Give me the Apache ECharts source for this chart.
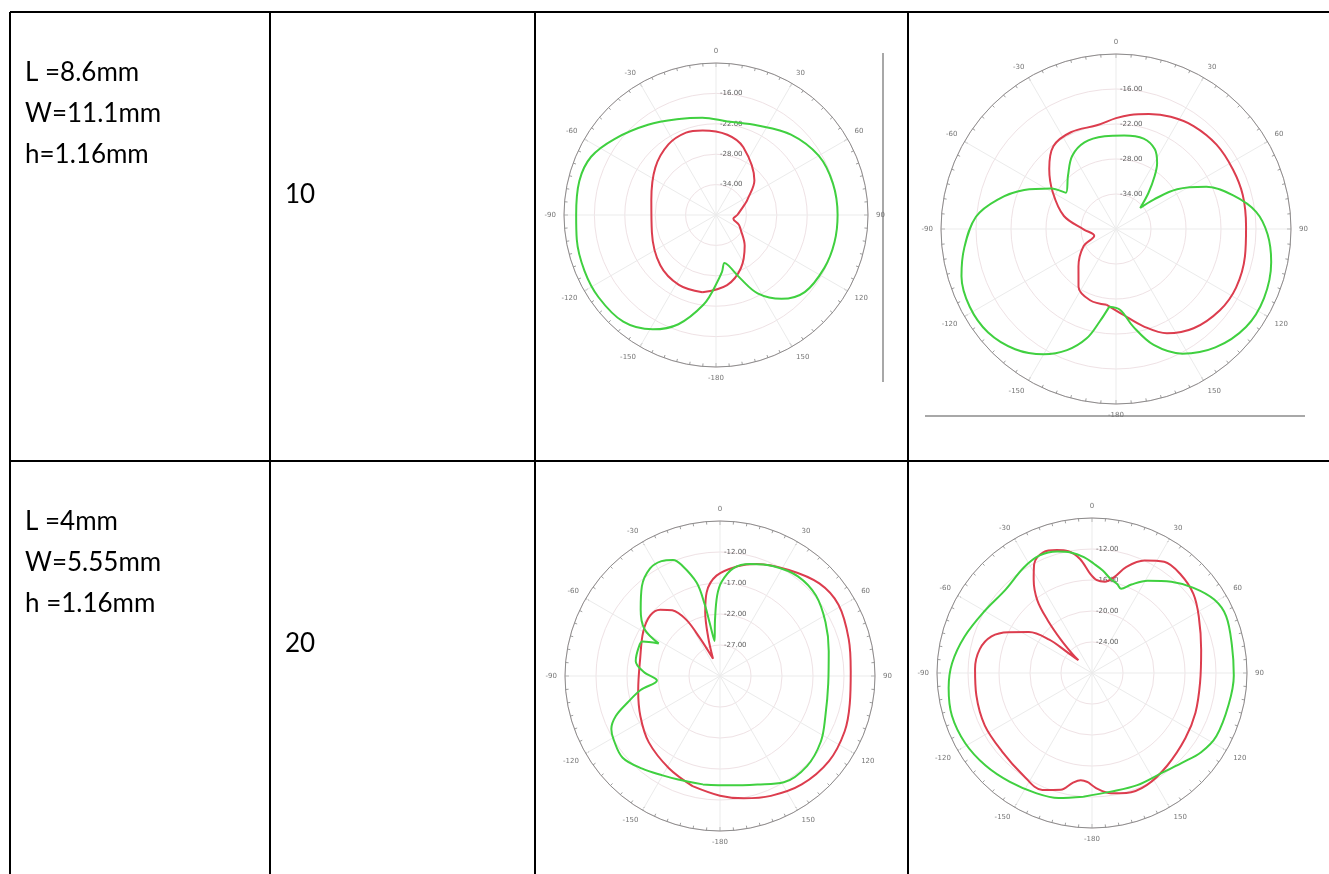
<!DOCTYPE html>
<html>
<head>
<meta charset="utf-8">
<title>Patch antenna radiation patterns</title>
<script src="https://cdn.jsdelivr.net/npm/echarts@6/dist/echarts.min.js"></script>
<style>
  html, body { margin: 0; padding: 0; background: #ffffff; }
  #wrap { position: relative; width: 1329px; height: 874px; }
  #plots, #table { position: absolute; left: 0; top: 0; width: 1329px; height: 874px; }
  #plots { filter: blur(0.5px); }
</style>
</head>
<body>
<div id="wrap">
  <div id="plots"></div>
  <div id="table"></div>
</div>
<script>
// Table cells: patch dimensions and the value column
const rowDimensions = [
  ['L =8.6mm', 'W=11.1mm', 'h=1.16mm'],
  ['L =4mm', 'W=5.55mm', 'h =1.16mm']
];
const rowValues = ['10', '20'];

// Radial scales (dB) of the four pattern plots
const radialMin = [-40, -40, -32, -28];
const radialMax = [-10, -10, -7, -8];
const radialStep = [6, 6, 5, 4];

// Pattern 1 (L=8.6mm, first plot): theta in degrees, gain in dB
const p1RedAngle = [-170, -152, -132, -105, -77, -52, -34, -20, -9, 8, 22, 48, 64, 68, 90, 102, 113, 120, 137, 155, 171];
const p1RedGain = [-24.5, -24.4, -25.2, -26.9, -26.9, -24.8, -23.2, -22.7, -23.1, -24.0, -25.6, -29.8, -33.1, -33.7, -35.8, -36.5, -35.1, -34.4, -31.7, -28.4, -26.0];
const p1GreenAngle = [-179, -172, -161, -151, -139, -125, -113, -100, -90, -76, -65, -53, -37, -21, -8, 7, 25, 43, 60, 75, 90, 103, 116, 131, 142, 152, 159, 166, 170, 174];
const p1GreenGain = [-25.8, -22.1, -17.2, -14.2, -12.1, -11.7, -11.8, -12.1, -12.4, -12.2, -12.8, -15.0, -17.7, -19.7, -20.6, -21.4, -20.5, -18.3, -16.6, -16.1, -16.0, -16.0, -16.2, -16.8, -19.0, -22.5, -26.6, -29.7, -30.4, -28.7];

// Pattern 2 (L=8.6mm, second plot)
const p2RedAngle = [-173, -160, -147, -135, -118, -107, -91, -76, -60, -48, -37, -25, -10, 0, 7, 16, 26, 37, 50, 63, 75, 89, 102, 116, 128, 142, 154, 164, 175];
const p2RedGain = [-26.9, -27.0, -28.2, -30.9, -33.7, -36.1, -34.5, -30.8, -27.5, -24.6, -22.2, -21.7, -21.9, -21.0, -20.3, -19.5, -18.6, -17.9, -17.5, -17.5, -17.5, -17.7, -17.4, -17.1, -17.4, -18.4, -20.1, -22.6, -25.2];
const p2GreenAngle = [-175, -170, -165, -158, -150, -140, -129, -118, -107, -97, -85, -76, -67, -58, -54, -42, -31, -20, -7, 5, 17, 26, 32, 36, 42, 49, 52, 57, 65, 74, 83, 92, 102, 115, 127, 140, 152, 162, 170, 177];
const p2GreenGain = [-26.6, -23.9, -20.6, -17.6, -15.2, -13.1, -11.8, -11.6, -12.3, -13.8, -15.9, -19.1, -22.9, -26.9, -29.4, -27.7, -25.4, -24.2, -24.0, -23.9, -23.8, -24.8, -26.7, -28.7, -31.7, -34.5, -31.8, -27.5, -22.9, -19.1, -15.8, -14.0, -12.8, -12.0, -12.1, -13.5, -15.8, -19.1, -23.0, -26.1];

// Pattern 3 (L=4mm, first plot)
const p3RedAngle = [-166, -151, -133, -117, -100, -77, -60, -49, -42, -36, -31, -28, -22, -17, -13, -9, -2, 9, 18, 33, 47, 59, 74, 88, 102, 114, 128, 143, 157, 169, 180];
const p3RedGain = [-13.7, -15.0, -16.3, -17.6, -18.6, -18.8, -17.7, -17.1, -17.6, -18.9, -21.4, -25.0, -29.0, -25.5, -21.4, -18.3, -15.8, -14.1, -13.0, -11.6, -10.1, -9.7, -10.4, -10.9, -10.6, -10.0, -9.7, -10.1, -11.0, -11.9, -12.7];
const p3GreenAngle = [-171, -158, -150, -140, -130, -121, -116, -111, -106, -100, -94, -87, -80, -71, -66, -62, -58, -50, -41, -33, -27, -22, -19, -14, -12, -11, -9, -5, -2, 1, 7, 15, 26, 38, 50, 63, 77, 94, 111, 123, 136, 149, 161, 175];
const p3GreenGain = [-14.3, -14.0, -13.5, -12.5, -11.5, -12.0, -12.5, -14.0, -16.5, -19.0, -21.8, -19.7, -18.2, -18.1, -18.3, -20.8, -17.6, -15.3, -12.8, -11.3, -11.2, -11.8, -13.1, -16.5, -20.3, -23.3, -26.3, -22.8, -19.0, -16.8, -14.5, -13.3, -12.3, -11.6, -11.8, -12.9, -14.0, -14.5, -13.8, -12.6, -11.8, -12.0, -13.5, -14.3];

// Pattern 4 (L=4mm, second plot)
const p4RedAngle = [-178, -174, -170, -165, -157, -146, -131, -116, -101, -88, -78, -70, -64, -57, -52, -50, -47, -46, -43, -40, -37, -32, -28, -22, -16, -11, -6, -1, 3, 8, 13, 18, 25, 33, 42, 52, 62, 78, 95, 111, 125, 141, 154, 164, 171, 177];
const p4RedGain = [-13.9, -14.1, -13.6, -12.4, -11.6, -12.1, -12.6, -12.6, -12.8, -12.9, -13.2, -14.2, -16.0, -18.3, -21.0, -23.7, -25.6, -24.6, -22.1, -19.1, -16.3, -13.8, -12.1, -11.2, -11.5, -12.0, -13.2, -15.2, -16.0, -16.1, -15.3, -13.6, -12.0, -10.9, -10.9, -11.4, -12.4, -13.6, -14.0, -13.7, -13.3, -12.6, -11.9, -11.9, -12.3, -13.0];
const p4GreenAngle = [-176, -165, -155, -143, -131, -119, -107, -96, -86, -74, -60, -46, -33, -24, -16, -10, -4, 1, 6, 11, 16, 19, 24, 31, 41, 50, 59, 67, 79, 91, 103, 117, 126, 135, 146, 158, 171];
const p4GreenGain = [-12.0, -11.3, -10.9, -10.4, -9.8, -9.3, -9.1, -9.4, -9.9, -10.9, -12.0, -12.5, -11.8, -11.4, -11.7, -12.2, -13.0, -13.9, -14.7, -15.6, -16.1, -16.5, -15.5, -14.1, -12.4, -10.9, -9.6, -9.2, -9.6, -9.7, -9.9, -10.0, -10.6, -11.6, -12.3, -12.4, -12.5];

// ---- layout ----
const plotCenters = [[716, 215], [1116, 229], [720, 676], [1092, 673]];
const plotRadii = [152, 175, 155, 155];
const redColor = '#dc3d4e';
const greenColor = '#40d040';

const tableLines = [
  [10, 12, 1330, 12],   // top border
  [10, 461, 1330, 461], // row divider
  [10, 12, 10, 874],
  [270, 12, 270, 874],
  [535, 12, 535, 874],
  [908, 12, 908, 874]
];

const redSets = [[p1RedAngle, p1RedGain], [p2RedAngle, p2RedGain], [p3RedAngle, p3RedGain], [p4RedAngle, p4RedGain]];
const greenSets = [[p1GreenAngle, p1GreenGain], [p2GreenAngle, p2GreenGain], [p3GreenAngle, p3GreenGain], [p4GreenAngle, p4GreenGain]];

// theta runs -180..180 with 0 at the top; the angle axis uses 0..360 clockwise
function toPolarPoints(angles, gains) {
  const pts = angles.map((a, i) => [gains[i], a < 0 ? a + 360 : a]);
  pts.push(pts[0].slice());
  return pts;
}

const polar = plotCenters.map((c, i) => ({ center: c, radius: plotRadii[i] }));

const angleAxis = plotCenters.map((c, i) => ({
  polarIndex: i,
  type: 'value',
  min: 0,
  max: 360,
  interval: 30,
  startAngle: 90,
  clockwise: true,
  axisLine: { lineStyle: { color: '#8c8c8c', width: 1 } },
  axisTick: { show: true, inside: true, length: 4, lineStyle: { color: '#8c8c8c' } },
  minorTick: { show: true, splitNumber: 6, length: 3, lineStyle: { color: '#a0a0a0' } },
  axisLabel: {
    margin: 8,
    fontSize: 7,
    color: '#767676',
    fontFamily: 'DejaVu Sans',
    formatter: v => (v === 360 ? '' : String(v >= 180 ? v - 360 : v))
  },
  splitLine: { show: true, lineStyle: { color: '#ebebeb', width: 1 } }
}));

const radiusAxis = plotCenters.map((c, i) => ({
  polarIndex: i,
  type: 'value',
  min: radialMin[i],
  max: radialMax[i],
  interval: radialStep[i],
  axisLine: { show: false },
  axisTick: { show: false },
  axisLabel: {
    margin: -4,
    align: 'left',
    verticalAlign: 'middle',
    fontSize: 7,
    color: '#606060',
    fontFamily: 'DejaVu Sans',
    formatter: v => (v === radialMin[i] || v === radialMax[i]) ? '' : v.toFixed(2)
  },
  splitLine: { show: true, lineStyle: { color: '#efe2e5', width: 1 } }
}));

const series = [];
plotCenters.forEach((c, i) => {
  series.push({
    type: 'line', coordinateSystem: 'polar', polarIndex: i,
    symbol: 'none', smooth: 0.35, silent: true,
    lineStyle: { color: redColor, width: 2 },
    data: toPolarPoints(redSets[i][0], redSets[i][1])
  });
  series.push({
    type: 'line', coordinateSystem: 'polar', polarIndex: i,
    symbol: 'none', smooth: 0.35, silent: true,
    lineStyle: { color: greenColor, width: 2 },
    data: toPolarPoints(greenSets[i][0], greenSets[i][1])
  });
});

// frame lines that sit beside the plot images
const plotGraphic = [
  { type: 'line', silent: true, shape: { x1: 883, y1: 53, x2: 883, y2: 382 }, style: { stroke: '#a8a8a8', lineWidth: 2 } },
  { type: 'line', silent: true, shape: { x1: 925, y1: 416, x2: 1305, y2: 416 }, style: { stroke: '#a8a8a8', lineWidth: 2 } }
];

const plotChart = echarts.init(document.getElementById('plots'), null, { renderer: 'canvas' });
plotChart.setOption({
  animation: false,
  backgroundColor: '#ffffff',
  polar, angleAxis, radiusAxis, series, graphic: plotGraphic
});

// table grid and cell text, drawn crisp on top
const tableGraphic = [];
tableLines.forEach(l => tableGraphic.push({
  type: 'line', silent: true,
  shape: { x1: l[0], y1: l[1], x2: l[2], y2: l[3] },
  style: { stroke: '#000000', lineWidth: 2 }
}));
const rowTops = [12, 461];
rowDimensions.forEach((lines, r) => {
  lines.forEach((t, k) => tableGraphic.push({
    type: 'text', silent: true, x: 25, y: rowTops[r] + 61 + k * 41,
    style: { text: t, font: '26px Lato', fill: '#000000', align: 'left', verticalAlign: 'middle' }
  }));
  tableGraphic.push({
    type: 'text', silent: true, x: 285, y: rowTops[r] + 183,
    style: { text: rowValues[r], font: '26px Lato', fill: '#000000', align: 'left', verticalAlign: 'middle' }
  });
});

const tableChart = echarts.init(document.getElementById('table'), null, { renderer: 'canvas' });
tableChart.setOption({
  animation: false,
  backgroundColor: 'transparent',
  graphic: tableGraphic
});
</script>
</body>
</html>
